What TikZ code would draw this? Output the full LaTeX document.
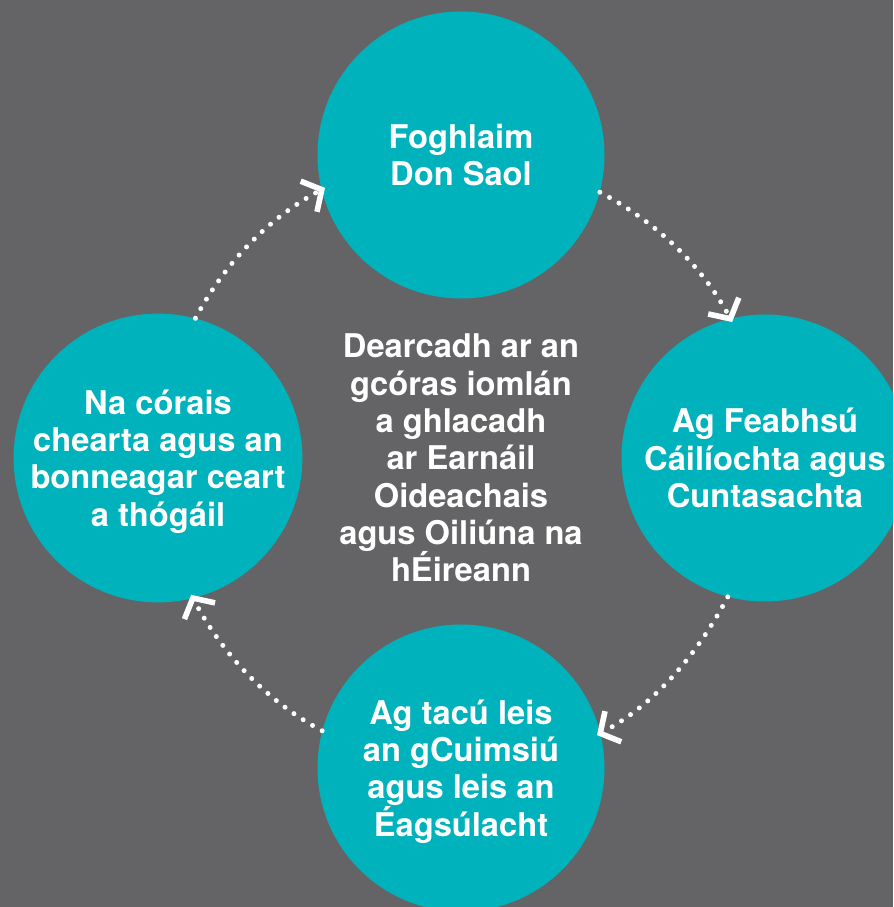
\documentclass[tikz,border=0pt]{standalone}
\usepackage{fontspec}
\setmainfont{TeX Gyre Heros}
\usetikzlibrary{arrows.meta}
\definecolor{slate}{RGB}{100,100,102}
\definecolor{teal}{RGB}{0,178,188}
\begin{document}
\begin{tikzpicture}[x=0.75pt,y=0.75pt,
    txt/.style={text=white,align=center,font=\fontsize{24.5}{28}\selectfont\bfseries},
    disc/.style={txt,circle,fill=teal,inner sep=0pt,minimum size=215.25pt,text depth=0pt},
    flow/.style={white,line width=3.75pt,line cap=round,dash pattern=on 0pt off 8.25pt,
        -{Straight Barb[length=11pt,width=26pt,line width=4.2pt,sep=-3pt]},looseness=0.87}]
    \def\W{893}\def\H{907}
    \fill[slate] (0,0) rectangle (\W,\H);
    \clip (0,0) rectangle (\W,\H);
    %% circles
    \node[disc] (top) at (461,752) {Foghlaim\\Don Saol};
    \node[disc] (rgt) at (765,449) {Ag Feabhsú\\Cáilíochta agus\\Cuntasachta};
    \node[disc] (bot) at (461,139) {Ag tacú leis\\an gCuimsiú\\agus leis an\\Éagsúlacht};
    \node[disc] (lft) at (158,449) {Na córais\\chearta agus an\\bonneagar ceart\\a thógáil};
    %% middle
    \node[txt,text depth=0pt] (mid) at (461,449)
        {Dearcadh ar an\\gcóras iomlán\\a ghlacadh\\ar Earnáil\\Oideachais\\agus Oiliúna na\\hÉireann};
    %% cycle
    \foreach \a/\sa/\b/\eb/\o/\i in {lft/75.5/top/194.5/62/208,
                                    top/345.5/rgt/104.5/-28/118,
                                    rgt/255.5/bot/14.5/-118/28,
                                    bot/165.5/lft/284.5/152/-62}
        \draw[flow] (\a.\sa) to[out=\o,in=\i] (\b.\eb);
\end{tikzpicture}
\end{document}
